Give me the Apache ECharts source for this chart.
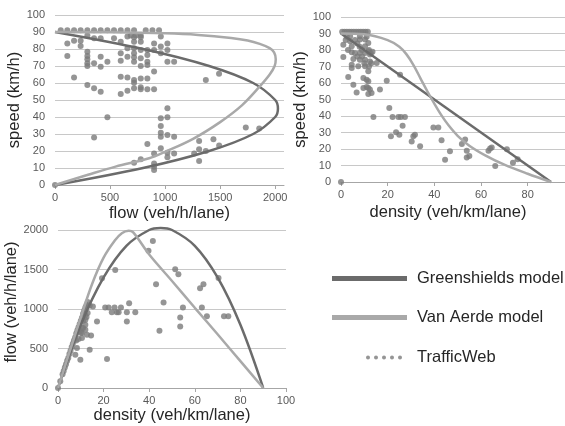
<!DOCTYPE html>
<html>
<head>
<meta charset="utf-8">
<script src="https://cdn.jsdelivr.net/npm/echarts@6.0.0/dist/echarts.min.js"></script>
<style>
html, body { margin: 0; padding: 0; background: #fff; }
#main { width: 565px; height: 426px; }
</style>
</head>
<body>
<div id="main"></div>
<script>
// Greenshields model
var gsFlowA = [0, 800, 1400, 1800, 2000, 2025, 2000, 1800, 1400, 800, 0];
var gsSpeedA = [0, 10, 20, 30, 40, 45, 50, 60, 70, 80, 90];
var gsDensityB = [0, 90];
var gsSpeedB = [90, 0];
var gsDensityC = [0, 10, 20, 30, 40, 45, 50, 60, 70, 80, 90];
var gsFlowC = [0, 800, 1400, 1800, 2000, 2025, 2000, 1800, 1400, 800, 0];

// Van Aerde model
var vaFlowA = [0, 300, 550, 855, 1000, 1250, 1500, 1700, 1860, 1950, 1995, 2005, 1990, 1950, 1860, 1750, 1600, 1300, 1000, 500, 0];
var vaSpeedA = [0, 6, 10.8, 15.7, 19.5, 27, 37, 47, 58, 65, 70, 74, 78, 80.5, 83, 85, 86.5, 88.3, 89.2, 89.8, 90];
var vaDensityB = [0, 10, 20, 25, 28, 31, 34, 37, 40, 43, 46, 50, 55, 62, 70, 80, 90];
var vaSpeedB = [90, 89.5, 86, 82, 77.5, 71, 63, 55, 47.5, 40.5, 34.5, 28, 22, 16, 10.5, 5, 0];
var vaDensityC = [0, 5, 10, 15, 20, 25, 28, 31, 33, 40, 50, 60, 70, 80, 90];
var vaFlowC = [0, 450, 895, 1320, 1650, 1870, 1960, 1990, 1970, 1690, 1355, 1015, 680, 340, 0];

// TrafficWeb observations, speed vs flow
var twFlowA = [52, 112, 173, 233, 294, 355, 415, 476, 536, 597, 658, 718, 824, 885, 945,
    294, 688, 733, 779,
    112, 173, 233, 233, 112, 173,
    294, 294, 294, 294, 294, 294,
    355, 355, 355, 355,
    415, 415, 415, 415,
    476, 476, 536,
    597, 597, 597, 597, 597,
    658, 658, 658, 658, 658,
    718, 718, 718, 718, 718, 718, 718, 718, 718, 718,
    779, 779, 779, 779, 779, 779, 779, 779, 779,
    839, 839, 839, 839, 839, 839, 839,
    900, 900, 900, 900, 900, 900, 900, 900,
    961, 961, 961, 961, 961, 961, 961, 961,
    1021, 1021, 1021, 1021, 1021, 1021, 1021, 1021,
    1082, 1082, 1082,
    1370, 1490, 1264, 1309, 1309, 1309, 1370, 1439, 1491,
    1733, 1855, 0];
var twSpeedA = [91, 91, 91, 91, 91, 91, 91, 91, 91, 91, 91, 91, 91, 91, 91,
    88, 88, 88, 88,
    83.3, 84.9, 84.9, 81.8, 75.9, 63.3,
    78.4, 75.9, 73.9, 71.6, 70, 58.8,
    86.3, 71.6, 56.9, 28,
    86.3, 75.5, 69.6, 54.9,
    72.5, 39.8, 86.3,
    84.3, 77.5, 73.1, 63.7, 53.5,
    87.3, 80.4, 75.5, 63.3, 55.5,
    86.9, 84.3, 80.4, 77.5, 75.1, 72.5, 61.8, 60.2, 56.9, 13.1,
    86.9, 84.3, 79.4, 74.5, 70, 62.7, 57.5, 56.3, 15.1,
    79.4, 76.5, 72.5, 70.6, 62.7, 56.3, 24.1,
    83.3, 79.4, 66.7, 56.3, 18.6, 12.7, 10.8, 8.8,
    87.3, 81.4, 77.5, 39.2, 34.7, 30.8, 28.4, 21.6,
    83.3, 79.4, 72.5, 45.1, 39.8, 29.4, 19, 16.3,
    72.5, 28.4, 18.6,
    61.8, 65.5, 18.6, 25.9, 21, 14.1, 20, 26.9, 23.3,
    33.8, 33.2, 0];

// speed vs density
var twDensityB = [0.5, 1.5, 2.5, 3.5, 4.5, 5.5, 6.5, 7.5, 8.5, 9.5, 10.5, 11.5,
    1, 1, 3.1, 3.9, 3.9, 4.6, 4.6, 4.6, 4.6, 5.3, 5.3, 6.7, 7.4, 8.1, 8.1, 8.1, 8.1,
    9.6, 9.6, 10.3, 10.3, 10.3, 10.3, 10.3, 11, 11, 11.7, 11.7, 11.7, 11.7, 11.7, 11.7,
    12.4, 12.4, 12.4, 13.1, 13.9, 15.3, 16.7, 19.6, 20.7, 21.4, 22.1, 24.6, 25.7, 27.4,
    23.6, 25, 25.3, 26.4, 30.3, 31, 31.7, 33.9, 39.6, 41.7, 43.1, 44.6, 46.7,
    51.8, 53.2, 53.9, 53.9, 55, 63.2, 63.9, 64.6, 66.1, 71.1, 73.7, 75.7, 0,
    6, 7, 8, 9, 9, 10, 11, 12, 12.8, 13.5, 6, 7, 12, 13, 2, 3, 2.5];
var twSpeedB = [91, 91, 91, 91, 91, 91, 91, 91, 91, 91, 91, 91,
    83.2, 75.8, 63.6, 88.3, 85.3, 82.2, 78.6, 71.1, 69.1, 74.5, 59, 54.3, 70.1, 88.3, 86.3, 78.2, 74.1,
    63, 57, 86.3, 82.2, 78.2, 74.1, 70.1, 62, 57.6, 84.2, 79.2, 67.1, 61, 57, 53.3,
    77.2, 73.1, 56, 53.9, 39.4, 72.1, 56, 61.4, 44.8, 27.7, 39.4, 39.4, 39.4, 39.4,
    30.1, 28.7, 65, 34.1, 24.6, 27.7, 28.7, 21.6, 33.1, 33.1, 25.3, 13.5, 18.6,
    23, 25.8, 18.9, 14.8, 15.8, 18.9, 20.3, 20.9, 9.7, 19.8, 11.7, 13.8, 0,
    86, 84, 82, 80, 76, 72, 88, 80, 78, 79, 78, 76, 70, 72, 86, 80, 88];

// flow vs density
var twDensityC = [0, 1, 2, 2.5, 3, 3.5, 4, 4.5, 5, 5.5, 6, 6.5, 7, 7.5, 8, 8.5, 9, 9.5, 10, 10.5, 11, 11.5, 12, 12.5, 13,
    7.6, 9.8, 8.3, 10.5, 10.5, 10.5, 12, 12, 12, 12, 12, 12.7, 12.7, 13.9, 15.3, 14.5, 13.9, 17.1,
    19.3, 25.1, 20.7, 22.2, 24.8, 27.6, 23.6, 25.8, 26.6, 30.2, 31.2, 30.2, 33.9, 21.5,
    39.7, 41.6, 43, 44.5, 46.3, 51.4, 52.8, 53.6, 53.6, 54.8, 62.3, 63.8, 63.1, 65.3, 70.4, 72.8, 74.7,
    9, 10, 11, 11, 12.5, 13, 9.5, 8];
var twFlowC = [0, 85, 175, 215, 260, 300, 345, 380, 430, 470, 520, 560, 600, 640, 690, 730, 770, 810, 850, 890, 940, 980, 1020, 1050, 1090,
    421, 358, 505, 632, 695, 758, 737, 800, 863, 926, 989, 674, 1044, 1044, 1032, 665, 484, 842,
    1389, 1495, 1019, 1019, 1019, 1019, 960, 960, 960, 960, 1074, 842, 960, 366,
    1736, 1862, 1314, 724, 1082, 1504, 1441, 893, 779, 1020, 1264, 1314, 1020, 907, 1391, 907, 907,
    620, 700, 760, 850, 900, 950, 720, 600];

var gsColor = '#6b6b6b';
var vaColor = '#a9a9a9';
var twColor = '#7a7a7a';
var font = 'Liberation Sans, Arial, sans-serif';

function pairs(xs, ys) {
    var out = [];
    for (var i = 0; i < xs.length; i++) out.push([xs[i], ys[i]]);
    return out;
}

function plain(v) {
    return String(v);
}

function xAxisOf(idx, name, max, interval, gap, pad, showMax) {
    return {
        type: 'value', gridIndex: idx, min: 0, max: max, interval: interval,
        name: name, nameLocation: 'middle', nameGap: gap,
        nameTextStyle: { fontSize: 16.5, color: '#262626', fontFamily: font, padding: pad },
        axisLine: { show: true, lineStyle: { color: '#a6a6a6', width: 1 } },
        axisTick: { show: true, length: 4, lineStyle: { color: '#a6a6a6' } },
        axisLabel: { color: '#595959', fontSize: 11, fontFamily: font, margin: 7, showMaxLabel: showMax, formatter: plain },
        splitLine: { show: false }
    };
}

function yAxisOf(idx, name, max, interval, gap, pad) {
    return {
        type: 'value', gridIndex: idx, min: 0, max: max, interval: interval,
        name: name, nameLocation: 'middle', nameGap: gap,
        nameTextStyle: { fontSize: 16.5, color: '#262626', fontFamily: font, padding: pad },
        axisLine: { show: false },
        axisTick: { show: false },
        axisLabel: { color: '#595959', fontSize: 11, fontFamily: font, margin: 10, formatter: plain },
        splitLine: { show: true, lineStyle: { color: '#c8c8c8', width: 1 } }
    };
}

function lineSeries(name, idx, data, color) {
    return {
        name: name, type: 'line', xAxisIndex: idx, yAxisIndex: idx,
        data: data, smooth: 0.35, symbol: 'none', clip: false,
        lineStyle: { color: color, width: 2.5 },
        itemStyle: { color: color }, z: 3
    };
}

function dotSeries(idx, data) {
    return {
        name: 'TrafficWeb', type: 'scatter', xAxisIndex: idx, yAxisIndex: idx,
        data: data, symbolSize: 6, itemStyle: { color: twColor }, z: 2
    };
}

function legendOf(label, top, left, icon, w, h, textPad) {
    return {
        data: [label], left: left, top: top, icon: icon, padding: 0,
        itemWidth: w, itemHeight: h, selectedMode: false,
        textStyle: { fontSize: 16.5, color: '#262626', fontFamily: font, padding: [0, 0, 0, textPad], overflow: 'none' }
    };
}

var dotsIcon = 'path://M0,2a2,2 0 1,0 4,0a2,2 0 1,0 -4,0Z M8,2a2,2 0 1,0 4,0a2,2 0 1,0 -4,0Z M16,2a2,2 0 1,0 4,0a2,2 0 1,0 -4,0Z M24,2a2,2 0 1,0 4,0a2,2 0 1,0 -4,0Z M32,2a2,2 0 1,0 4,0a2,2 0 1,0 -4,0Z';

var myChart = echarts.init(document.getElementById('main'));

var option = {
    animation: false,
    backgroundColor: '#fff',
    grid: [
        { left: 55, top: 15, width: 229, height: 170 },
        { left: 341, top: 17, width: 224, height: 165 },
        { left: 58, top: 230, width: 228, height: 158 }
    ],
    xAxis: [
        xAxisOf(0, 'flow (veh/h/lane)', 2080, 500, 20, [0, 0, 0, 0], false),
        xAxisOf(1, 'density (veh/km/lane)', 96, 20, 22, [0, 10, 0, 0], false),
        xAxisOf(2, 'density (veh/km/lane)', 100, 20, 18, [0, 0, 0, 0], true)
    ],
    yAxis: [
        yAxisOf(0, 'speed (km/h)', 100, 10, 30, [0, 0, 0, 0]),
        yAxisOf(1, 'speed (km/h)', 100, 10, 27, [0, 0, 0, 0]),
        yAxisOf(2, 'flow (veh/h/lane)', 2000, 500, 33, [0, 0, 0, 14])
    ],
    legend: [
        legendOf('Greenshields model', 270, 332, 'rect', 75, 5, 5),
        legendOf('Van Aerde model', 309, 332, 'rect', 75, 5, 5),
        legendOf('TrafficWeb', 349, 366, dotsIcon, 36, 4, 10)
    ],
    series: [
        dotSeries(0, pairs(twFlowA, twSpeedA)),
        lineSeries('Greenshields model', 0, pairs(gsFlowA, gsSpeedA), gsColor),
        lineSeries('Van Aerde model', 0, pairs(vaFlowA, vaSpeedA), vaColor),
        dotSeries(1, pairs(twDensityB, twSpeedB)),
        lineSeries('Greenshields model', 1, pairs(gsDensityB, gsSpeedB), gsColor),
        lineSeries('Van Aerde model', 1, pairs(vaDensityB, vaSpeedB), vaColor),
        dotSeries(2, pairs(twDensityC, twFlowC)),
        lineSeries('Greenshields model', 2, pairs(gsDensityC, gsFlowC), gsColor),
        lineSeries('Van Aerde model', 2, pairs(vaDensityC, vaFlowC), vaColor)
    ]
};

myChart.setOption(option);
</script>
</body>
</html>
